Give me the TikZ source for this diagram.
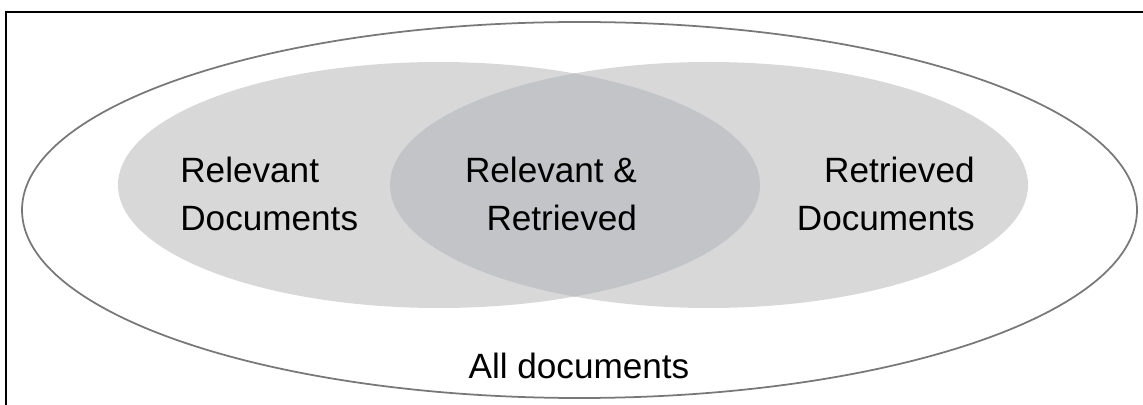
\documentclass[tikz,border=0pt]{standalone}
\usepackage{fontspec}
\setmainfont{Liberation Sans}
\usepackage{tikz}
\definecolor{setgray}{RGB}{216,216,216}
\definecolor{lensgray}{RGB}{195,196,200}
\definecolor{rimgray}{RGB}{120,120,120}
\begin{document}
\begin{tikzpicture}[label text/.style={font=\fontsize{20}{27.3}\selectfont, inner sep=0pt}]
                \useasboundingbox (0,0) rectangle (22.86,8.08);
                % Frame
                \draw[line width=1.2pt] (0.12,-0.2) |- (23,7.84);

                % All documents
                \draw[rimgray, line width=1pt] (11.59,3.88) ellipse [x radius=11.15, y radius=3.76];

                % Relevant and retrieved sets
                \fill[setgray] (8.78,4.38) ellipse [x radius=6.42, y radius=2.46];
                \fill[setgray] (14.18,4.38) ellipse [x radius=6.38, y radius=2.46];
                \begin{scope}
                    \clip (8.78,4.38) ellipse [x radius=6.42, y radius=2.46];
                    \fill[lensgray] (14.18,4.38) ellipse [x radius=6.38, y radius=2.46];
                \end{scope}

                % Labels
                \node[label text, anchor=west, align=left] (relevant) at (3.6,4.2) {Relevant\\Documents};
                \node[label text, align=right] (both) at (11.02,4.2) {Relevant \&\\Retrieved};
                \node[label text, anchor=east, align=right] (retrieved) at (19.5,4.2) {Retrieved\\Documents};
                \node[label text, anchor=base] (all) at (11.58,0.52) {All documents};
            \end{tikzpicture}
\end{document}
